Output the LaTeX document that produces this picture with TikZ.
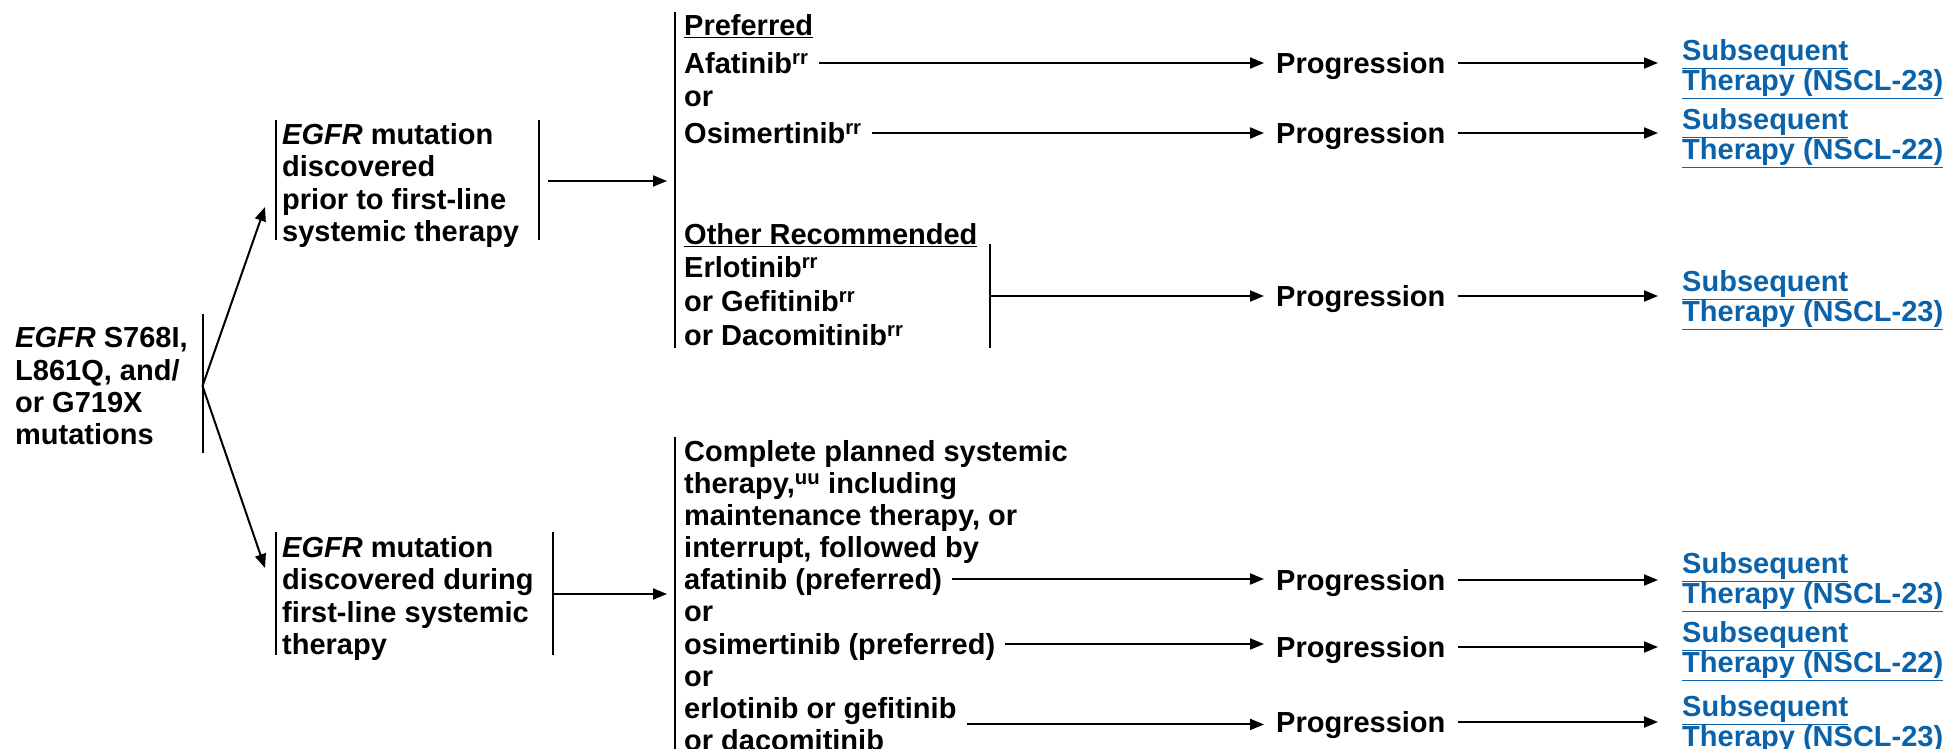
\documentclass[tikz,border=0pt]{standalone}
\usepackage{fontspec}
\setmainfont{Liberation Sans}
\usetikzlibrary{arrows.meta}
\definecolor{linkblue}{HTML}{0B62A8}
\newcommand{\fsz}{\fontsize{29pt}{32.2pt}\selectfont\bfseries}
\newcommand{\lsz}{\fontsize{29pt}{27pt}\selectfont\bfseries}
\newcommand{\sups}[1]{\textsuperscript{#1}}
\begin{document}
\begin{tikzpicture}[x=1pt,y=-1pt,
  txt/.style={font=\fsz, inner sep=0pt, align=left, anchor=north west},
  one/.style={font=\fsz, inner sep=0pt, anchor=west, text height=21pt, text depth=0pt},
  prog/.style={one, inner xsep=12pt},
  lnk/.style={font=\lsz, inner sep=0pt, align=left, anchor=north west, text=linkblue},
  bar/.style={line width=2pt},
  arr/.style={line width=2pt, -{Triangle[length=14pt,width=11pt]}},
]
\useasboundingbox (0,0) rectangle (1948,749);

% root
\node[txt] (root) at (15,327.5) {\textit{EGFR} S768I,\\L861Q, and/\\or G719X\\mutations};
\draw[bar] (202.5,314) -- (202.5,453);
\coordinate (fork) at (202.5,386);

% middle nodes
\node[txt] (m1) at (282,123.5) {\textit{EGFR} mutation\\discovered\\prior to first-line\\systemic therapy};
\draw[bar] (276,120.5) -- (276,240);
\draw[bar] (539,120.5) -- (539,240);
\coordinate (m1in) at (265,207);
\coordinate (m1out) at (548,181);

\node[txt] (m2) at (282,536.5) {\textit{EGFR} mutation\\discovered during\\first-line systemic\\therapy};
\draw[bar] (276,532) -- (276,655);
\draw[bar] (553,532) -- (553,655);
\coordinate (m2in) at (265,568);
\coordinate (m2out) at (553,594);

\draw[arr] (fork) -- (m1in);
\draw[arr] (fork) -- (m2in);

% upper right column
\draw[bar] (674.5,12) -- (674.5,348);
\coordinate (c1in) at (667,181);
\draw[arr] (m1out) -- (c1in);
\node[one] (pref) at (684,25) {\underline{Preferred}};
\node[one] (afat) at (684,63) {Afatinib\sups{rr}};
\node[one] (or1) at (684,96) {or};
\node[one] (osim) at (684,133) {Osimertinib\sups{rr}};
\node[one] (other) at (684,234) {\underline{Other Recommended}};
\node[one] (erlo) at (684,267) {Erlotinib\sups{rr}};
\node[one] (gefi) at (684,301) {or Gefitinib\sups{rr}};
\node[one] (daco) at (684,335) {or Dacomitinib\sups{rr}};
\draw[bar] (990,243.5) -- (990,348);
\coordinate (orbar) at (990,296);

% lower right column
\draw[bar] (674.5,437) -- (674.5,749);
\coordinate (c2in) at (667,594);
\draw[arr] (m2out) -- (c2in);
\node[one] (l1) at (684,451) {Complete planned systemic};
\node[one] (l2) at (684,483) {therapy,\sups{uu} including};
\node[one] (l3) at (684,515) {maintenance therapy, or};
\node[one] (l4) at (684,547) {interrupt, followed by};
\node[one] (l5) at (684,579) {afatinib (preferred)};
\node[one] (l6) at (684,611) {or};
\node[one] (l7) at (684,644) {osimertinib (preferred)};
\node[one] (l8) at (684,676) {or};
\node[txt] (l9) at (684,697.5) {erlotinib or gefitinib\\or dacomitinib};

% progression nodes
\node[prog] (p1) at (1264,63) {Progression};
\node[prog] (p2) at (1264,133) {Progression};
\node[prog] (p3) at (1264,296) {Progression};
\node[prog] (p4) at (1264,580) {Progression};
\node[prog] (p5) at (1264,647) {Progression};
\node[prog] (p6) at (1264,722) {Progression};

\draw[arr, shorten <=10pt] (afat.east) -- (afat.east -| p1.west);
\draw[arr, shorten <=10pt] (osim.east) -- (osim.east -| p2.west);
\draw[arr] (orbar) -- (p3.west);
\draw[arr, shorten <=10pt] (l5.east) -- (l5.east -| p4.west);
\draw[arr, shorten <=10pt] (l7.east) -- (l7.east -| p5.west);
\draw[arr, shorten <=10pt] (l9.east) -- (l9.east -| p6.west);

% subsequent therapy links
\node[lnk] (s1) at (1682,39.5) {\underline{Subsequent}\\\underline{Therapy (NSCL-23)}};
\node[lnk] (s2) at (1682,108.5) {\underline{Subsequent}\\\underline{Therapy (NSCL-22)}};
\node[lnk] (s3) at (1682,270.5) {\underline{Subsequent}\\\underline{Therapy (NSCL-23)}};
\node[lnk] (s4) at (1682,552.5) {\underline{Subsequent}\\\underline{Therapy (NSCL-23)}};
\node[lnk] (s5) at (1682,621.5) {\underline{Subsequent}\\\underline{Therapy (NSCL-22)}};
\node[lnk] (s6) at (1682,695.5) {\underline{Subsequent}\\\underline{Therapy (NSCL-23)}};

\draw[arr, shorten >=24pt] (p1.east) -- (p1.east -| s1.west);
\draw[arr, shorten >=24pt] (p2.east) -- (p2.east -| s2.west);
\draw[arr, shorten >=24pt] (p3.east) -- (p3.east -| s3.west);
\draw[arr, shorten >=24pt] (p4.east) -- (p4.east -| s4.west);
\draw[arr, shorten >=24pt] (p5.east) -- (p5.east -| s5.west);
\draw[arr, shorten >=24pt] (p6.east) -- (p6.east -| s6.west);
\end{tikzpicture}
\end{document}
